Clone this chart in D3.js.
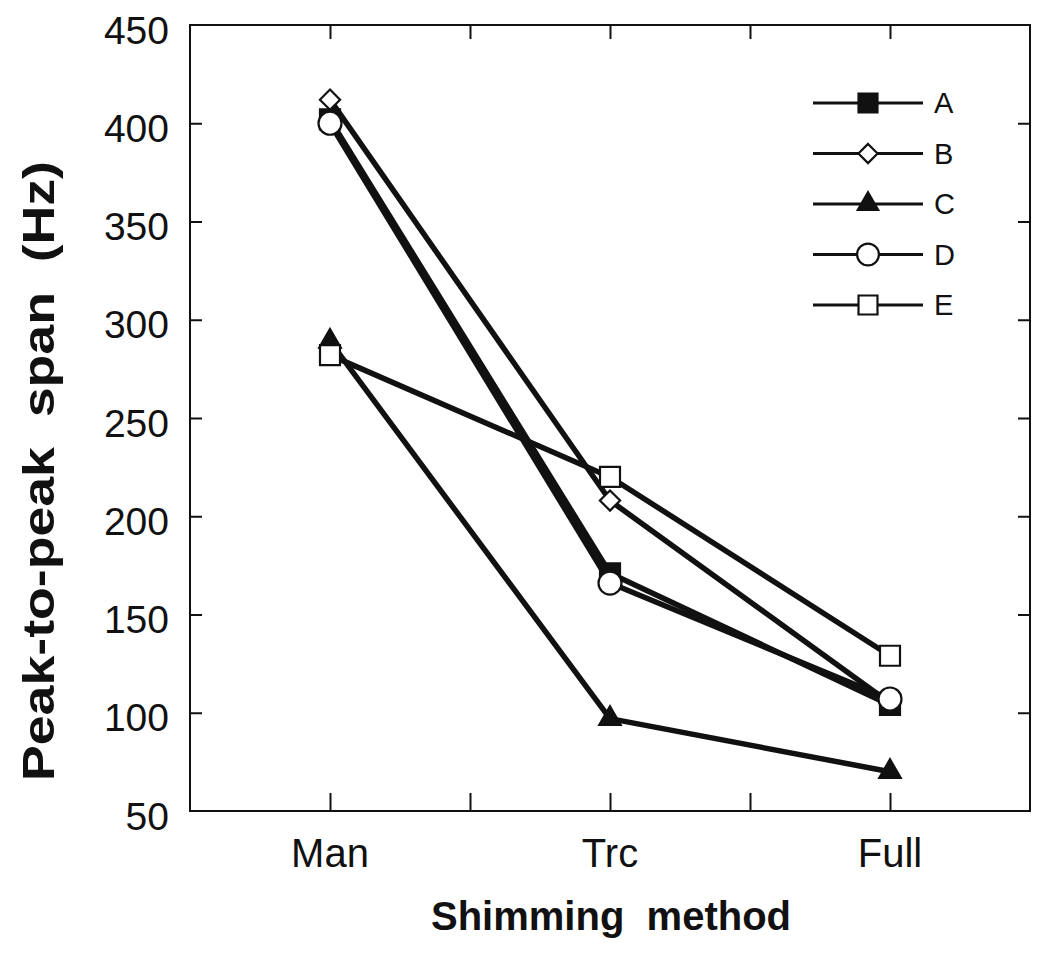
<!DOCTYPE html>
<html>
<head>
<meta charset="utf-8">
<script src="https://cdn.jsdelivr.net/npm/d3@7"></script>
<style>
  html, body { margin: 0; padding: 0; background: #fff; }
  svg { display: block; }
</style>
</head>
<body>
<svg id="chart" width="1050" height="955"></svg>
<script>
// ---- Data ----
const categories = ["Man", "Trc", "Full"];
const categoryPos = [1, 3, 5];
const seriesNames = ["A", "B", "C", "D", "E"];
const seriesA = [402, 171, 104];
const seriesB = [412, 208, 105];
const seriesC = [289, 97, 70];
const seriesD = [400, 166, 107];
const seriesE = [282, 220, 129];
const yTickValues = [50, 100, 150, 200, 250, 300, 350, 400, 450];
const xTickValues = [1, 2, 3, 4, 5];

const series = [
  { name: seriesNames[0], values: seriesA, symbol: "square", fill: "#111" },
  { name: seriesNames[1], values: seriesB, symbol: "diamond", fill: "#fff" },
  { name: seriesNames[2], values: seriesC, symbol: "triangle", fill: "#111" },
  { name: seriesNames[3], values: seriesD, symbol: "circle", fill: "#fff" },
  { name: seriesNames[4], values: seriesE, symbol: "square", fill: "#fff" }
];

(function () {
// ---- Layout ----
const svg = d3.select("#chart");
const pLeft = 190, pRight = 1030, pTop = 25, pBottom = 811;
const x = d3.scaleLinear().domain([0, 6]).range([pLeft, pRight]);
const y = d3.scaleLinear().domain([50, 450]).range([pBottom, pTop]);
const ink = "#111";
const font = "Liberation Sans, Arial, Helvetica, sans-serif";

// frame
svg.append("rect")
  .attr("x", pLeft).attr("y", pTop)
  .attr("width", pRight - pLeft).attr("height", pBottom - pTop)
  .attr("fill", "none").attr("stroke", ink).attr("stroke-width", 2);

// axes ticks (inward)
function styleAxis(g) {
  g.select(".domain").remove();
  g.selectAll(".tick line").attr("stroke", ink).attr("stroke-width", 2);
  g.selectAll(".tick text").remove();
}
svg.append("g").attr("transform", `translate(0,${pBottom})`)
  .call(d3.axisBottom(x).tickValues(xTickValues).tickSize(-18)).call(styleAxis);
svg.append("g").attr("transform", `translate(0,${pTop})`)
  .call(d3.axisTop(x).tickValues(xTickValues).tickSize(-14)).call(styleAxis);
svg.append("g").attr("transform", `translate(${pLeft},0)`)
  .call(d3.axisLeft(y).tickValues(yTickValues.slice(1, -1)).tickSize(-12)).call(styleAxis);
svg.append("g").attr("transform", `translate(${pRight},0)`)
  .call(d3.axisRight(y).tickValues(yTickValues.slice(1, -1)).tickSize(-12)).call(styleAxis);

// y tick labels
svg.append("g").selectAll("text").data(yTickValues).join("text")
  .attr("x", 169).attr("y", d => y(d) + 5)
  .attr("dy", "0.35em")
  .attr("text-anchor", "end")
  .attr("font-family", font)
  .attr("font-size", 39)
  .attr("fill", ink)
  .text(d => d);

// x category labels
svg.append("g").selectAll("text").data(categories).join("text")
  .attr("x", (d, i) => x(categoryPos[i]))
  .attr("y", 867)
  .attr("text-anchor", "middle")
  .attr("font-family", font)
  .attr("font-size", 40)
  .attr("fill", ink)
  .text(d => d);

// axis titles
svg.append("text")
  .attr("x", 611).attr("y", 930)
  .attr("text-anchor", "middle")
  .attr("font-family", font)
  .attr("font-weight", "bold")
  .attr("font-size", 40)
  .attr("fill", ink)
  .attr("xml:space", "preserve")
  .text("Shimming  method");

svg.append("text")
  .attr("transform", "translate(54,471) rotate(-90)")
  .attr("text-anchor", "middle")
  .attr("font-family", font)
  .attr("font-weight", "bold")
  .attr("font-size", 45)
  .attr("fill", ink)
  .attr("textLength", 620)
  .attr("lengthAdjust", "spacingAndGlyphs")
  .attr("xml:space", "preserve")
  .text("Peak-to-peak  span  (Hz)");

// symbols
const symbolSize = { square: 400, diamond: 260, triangle: 200, circle: 415 };
const symbolType = { square: d3.symbolSquare, diamond: d3.symbolDiamond2, triangle: d3.symbolTriangle, circle: d3.symbolCircle };
function sym(s, scale) { return d3.symbol().type(symbolType[s.symbol]).size(symbolSize[s.symbol] * (scale || 1))(); }
function drawMarker(g, s, cx, cy, scale) {
  g.append("path")
    .attr("d", sym(s, scale))
    .attr("transform", `translate(${cx},${cy})`)
    .attr("fill", s.fill)
    .attr("stroke", ink)
    .attr("stroke-width", 2.2);
}

// lines
const line = d3.line().x((d, i) => x(categoryPos[i])).y(d => y(d));
svg.append("g").selectAll("path").data(series).join("path")
  .attr("d", s => line(s.values))
  .attr("fill", "none")
  .attr("stroke", ink)
  .attr("stroke-width", 5.5)
  .attr("stroke-linejoin", "round");

// markers
const mg = svg.append("g");
series.forEach(s => s.values.forEach((v, i) => drawMarker(mg, s, x(categoryPos[i]), y(v))));

// legend
const lg = svg.append("g");
const legX0 = 813, legX1 = 923, legMid = 868, legY0 = 103, legDy = 50.5;
series.forEach((s, i) => {
  const ly = legY0 + i * legDy;
  lg.append("line").attr("x1", legX0).attr("x2", legX1).attr("y1", ly).attr("y2", ly)
    .attr("stroke", ink).attr("stroke-width", 3);
  drawMarker(lg, s, legMid, ly, 0.9);
  lg.append("text").attr("x", 934).attr("y", ly).attr("dy", "0.36em")
    .attr("font-family", font)
    .attr("font-size", 29).attr("fill", ink).text(s.name);
});
})();
</script>
</body>
</html>
